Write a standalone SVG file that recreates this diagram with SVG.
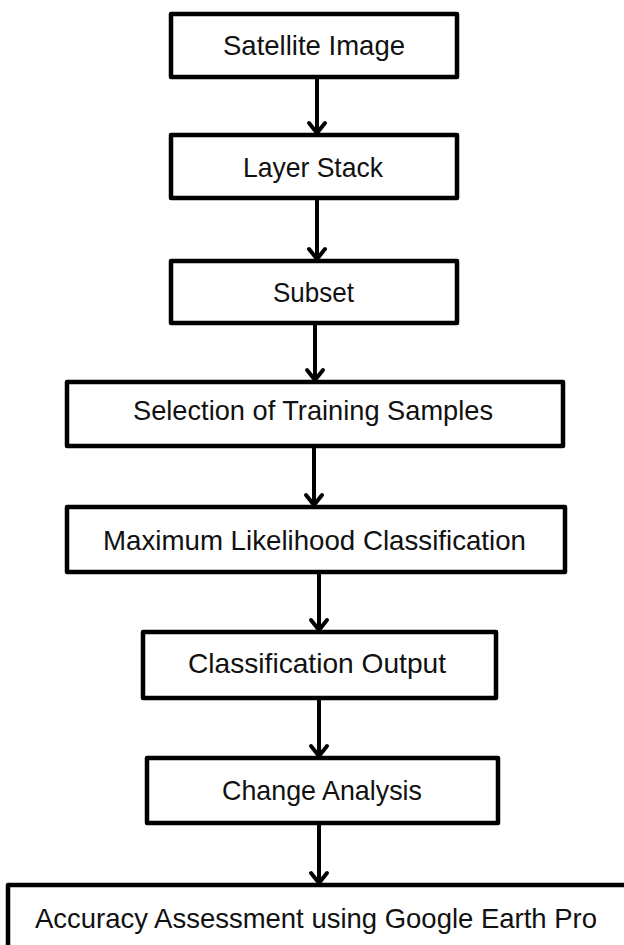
<svg xmlns="http://www.w3.org/2000/svg" width="624" height="945" viewBox="0 0 624 945">
<style>
.box{fill:#fff;stroke:#000;stroke-width:4.5;stroke-linejoin:round}
.lbl{font-family:"Liberation Sans",Arial,sans-serif;font-size:28px;fill:#111}
.conn line{stroke:#000;stroke-width:4}
.conn path{fill:none;stroke:#000;stroke-width:4;stroke-linecap:round;stroke-linejoin:miter}
</style>
<rect width="624" height="945" fill="#fff"/>
<g class="conn" id="connectors">
<line x1="317" y1="77" x2="317" y2="133"/><path d="M309,123 L317,133 L325,123"/>
<line x1="317" y1="198" x2="317" y2="259"/><path d="M309,249 L317,259 L325,249"/>
<line x1="315" y1="323" x2="315" y2="380"/><path d="M307,370 L315,380 L323,370"/>
<line x1="314" y1="446" x2="314" y2="505"/><path d="M306,495 L314,505 L322,495"/>
<line x1="319" y1="572" x2="319" y2="630"/><path d="M311,620 L319,630 L327,620"/>
<line x1="319" y1="698" x2="319" y2="756"/><path d="M311,746 L319,756 L327,746"/>
<line x1="319" y1="823" x2="319" y2="883"/><path d="M311,873 L319,883 L327,873"/>
</g>
<g id="n1"><rect class="box" x="171" y="14" width="286" height="63"/><text class="lbl" x="223" y="55" textLength="182" lengthAdjust="spacingAndGlyphs">Satellite Image</text></g>
<g id="n2"><rect class="box" x="171" y="135" width="286" height="63"/><text class="lbl" x="243" y="177" textLength="140" lengthAdjust="spacingAndGlyphs">Layer Stack</text></g>
<g id="n3"><rect class="box" x="171" y="261" width="286" height="62"/><text class="lbl" x="273" y="302" textLength="81" lengthAdjust="spacingAndGlyphs">Subset</text></g>
<g id="n4"><rect class="box" x="67" y="382" width="496" height="64"/><text class="lbl" x="133" y="420" textLength="360" lengthAdjust="spacingAndGlyphs">Selection of Training Samples</text></g>
<g id="n5"><rect class="box" x="67" y="507" width="498" height="65"/><text class="lbl" x="103" y="550" textLength="423" lengthAdjust="spacingAndGlyphs">Maximum Likelihood Classification</text></g>
<g id="n6"><rect class="box" x="143" y="632" width="353" height="66"/><text class="lbl" x="188" y="673" textLength="258" lengthAdjust="spacingAndGlyphs">Classification Output</text></g>
<g id="n7"><rect class="box" x="147" y="758" width="351" height="65"/><text class="lbl" x="222" y="800" textLength="200" lengthAdjust="spacingAndGlyphs">Change Analysis</text></g>
<g id="n8"><rect class="box" x="8" y="885" width="640" height="80"/><text class="lbl" x="35" y="928" textLength="562" lengthAdjust="spacingAndGlyphs">Accuracy Assessment using Google Earth Pro</text></g>
</svg>
